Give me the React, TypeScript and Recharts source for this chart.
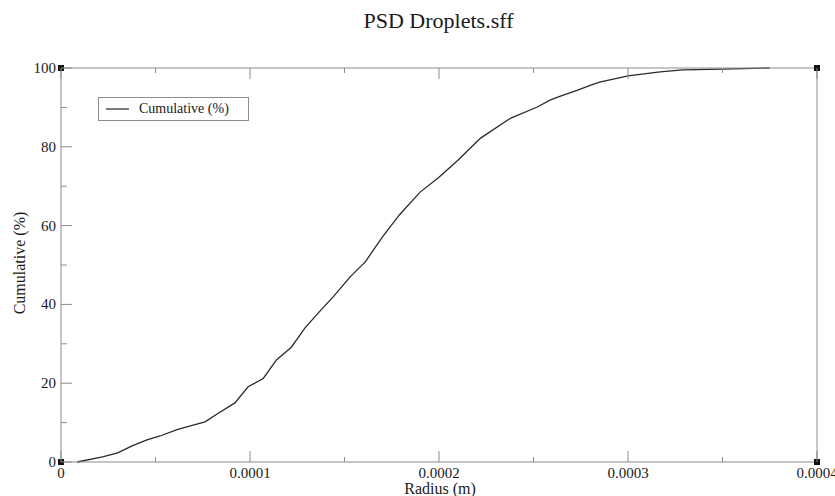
import { LineChart, Line, XAxis, YAxis, ReferenceDot } from "recharts"

const radius = [
  0.0000085, 0.000022, 0.00003, 0.0000376, 0.0000455, 0.0000524, 0.0000614, 0.000068, 0.0000762,
  0.000083, 0.000092, 0.000099, 0.000107, 0.000114, 0.000122, 0.000129, 0.000137, 0.000144,
  0.000153, 0.000161, 0.00017, 0.000179, 0.00019, 0.0002, 0.00021, 0.000222, 0.000238, 0.000252,
  0.000259, 0.000265, 0.000273, 0.00028, 0.000285, 0.0003, 0.000317, 0.000329, 0.00035, 0.000375,
]

const cumulative = [
  0, 1.3, 2.3, 4.1, 5.6, 6.6, 8.2, 9.1, 10.2,
  12.3, 15, 19.1, 21.2, 25.9, 29.2, 34, 38.3, 41.9,
  47, 50.8, 57.1, 62.7, 68.5, 72.3, 76.6, 82.2, 87.3, 90.1,
  91.9, 93, 94.3, 95.6, 96.4, 98, 99, 99.5, 99.7, 100,
]

const X_DOMAIN = [0, 0.0004]
const Y_DOMAIN = [0, 100]
const xTicks = [0, 0.00005, 0.0001, 0.00015, 0.0002, 0.00025, 0.0003, 0.00035, 0.0004]
const xLabels = [0, 0.0001, 0.0002, 0.0003, 0.0004]
const yTicks = [0, 10, 20, 30, 40, 50, 60, 70, 80, 90, 100]
const yLabels = [0, 20, 40, 60, 80, 100]

const FONT = "'Liberation Serif', 'DejaVu Serif', serif"
const AXIS = "#8c8c8c"
const TEXT = "#1a1a1a"

const data = radius.map((r, i) => ({ r, c: cumulative[i] }))

// inward ticks; major ones get a label (only on bottom/left)
function xTick(side: "bottom" | "top") {
  return (p: any) => {
    const v = p.payload.value
    const major = xLabels.includes(v)
    const len = major ? 11 : 5
    const dir = side === "bottom" ? -1 : 1
    return (
      <g>
        <line x1={p.x} y1={p.y} x2={p.x} y2={p.y + dir * len} stroke={AXIS} strokeWidth={1} />
        {side === "bottom" && major && (
          <text x={p.x} y={p.y + 16} textAnchor="middle" fontSize={15} fontFamily={FONT} fill={TEXT}>
            {String(v)}
          </text>
        )}
      </g>
    )
  }
}

function yTick(side: "left" | "right") {
  return (p: any) => {
    const v = p.payload.value
    const major = yLabels.includes(v)
    const len = major ? 11 : 6
    const dir = side === "left" ? 1 : -1
    return (
      <g>
        <line x1={p.x} y1={p.y} x2={p.x + dir * len} y2={p.y} stroke={AXIS} strokeWidth={1} />
        {side === "left" && major && (
          <text x={p.x - 5} y={p.y + 5} textAnchor="end" fontSize={15} fontFamily={FONT} fill={TEXT}>
            {String(v)}
          </text>
        )}
      </g>
    )
  }
}

const corner = (p: any) => <rect x={p.cx - 3} y={p.cy - 3} width={6} height={6} fill="#111" />

function LegendBox() {
  return (
    <div
      style={{
        position: "absolute",
        left: 98,
        top: 97,
        border: `1px solid ${AXIS}`,
        background: "white",
        width: 151,
        height: 24,
        display: "flex",
        alignItems: "center",
        fontFamily: FONT,
        fontSize: 14,
        color: TEXT,
        boxSizing: "border-box",
      }}
    >
      <svg width={33} height={10} style={{ marginLeft: 7 }}>
        <line x1={0} y1={5} x2={23} y2={5} stroke="#333" strokeWidth={1.3} />
      </svg>
      <span>Cumulative (%)</span>
    </div>
  )
}

export default function App() {
  return (
    <div style={{ position: "absolute", left: 0, top: 0, width: 835, height: 496, background: "white" }}>
      <LineChart width={835} height={496} data={data} margin={{ top: 67, right: 17, left: 11, bottom: 4 }}>
        <XAxis
          xAxisId="b"
          dataKey="r"
          type="number"
          domain={X_DOMAIN}
          ticks={xTicks}
          interval={0}
          height={30}
          tickSize={0}
          tickMargin={0}
          tickLine={false}
          axisLine={{ stroke: AXIS }}
          tick={xTick("bottom")}
        />
        <XAxis
          xAxisId="t"
          orientation="top"
          dataKey="r"
          type="number"
          domain={X_DOMAIN}
          ticks={xTicks}
          interval={0}
          height={1}
          tickSize={0}
          tickMargin={0}
          tickLine={false}
          axisLine={{ stroke: AXIS }}
          tick={xTick("top")}
        />
        <YAxis
          yAxisId="l"
          type="number"
          domain={Y_DOMAIN}
          ticks={yTicks}
          interval={0}
          width={50}
          tickSize={0}
          tickMargin={0}
          tickLine={false}
          axisLine={{ stroke: AXIS }}
          tick={yTick("left")}
        />
        <YAxis
          yAxisId="r"
          orientation="right"
          type="number"
          domain={Y_DOMAIN}
          ticks={yTicks}
          interval={0}
          width={1}
          tickSize={0}
          tickMargin={0}
          tickLine={false}
          axisLine={{ stroke: AXIS }}
          tick={yTick("right")}
        />
        <Line
          xAxisId="b"
          yAxisId="l"
          dataKey="c"
          type="linear"
          stroke="#2a2a2a"
          strokeWidth={1.3}
          dot={false}
          isAnimationActive={false}
        />
        {[X_DOMAIN[0], X_DOMAIN[1]].flatMap((x) =>
          [Y_DOMAIN[0], Y_DOMAIN[1]].map((y) => (
            <ReferenceDot
              key={`${x}-${y}`}
              xAxisId="b"
              yAxisId="l"
              x={x}
              y={y}
              r={3}
              ifOverflow="visible"
              shape={corner}
            />
          ))
        )}
      </LineChart>
      <div
        style={{
          position: "absolute",
          left: 0,
          width: 877,
          top: 8,
          lineHeight: "26px",
          textAlign: "center",
          fontFamily: FONT,
          fontSize: 22,
          color: TEXT,
        }}
      >
        PSD Droplets.sff
      </div>
      <div
        style={{
          position: "absolute",
          left: 0,
          width: 880,
          top: 481,
          lineHeight: "15px",
          textAlign: "center",
          fontFamily: FONT,
          fontSize: 16,
          color: TEXT,
        }}
      >
        Radius (m)
      </div>
      <div
        style={{
          position: "absolute",
          left: 20,
          top: 263,
          transform: "translate(-50%, -50%) rotate(-90deg)",
          whiteSpace: "nowrap",
          lineHeight: "16px",
          fontFamily: FONT,
          fontSize: 16,
          color: TEXT,
        }}
      >
        Cumulative (%)
      </div>
      <LegendBox />
    </div>
  )
}
